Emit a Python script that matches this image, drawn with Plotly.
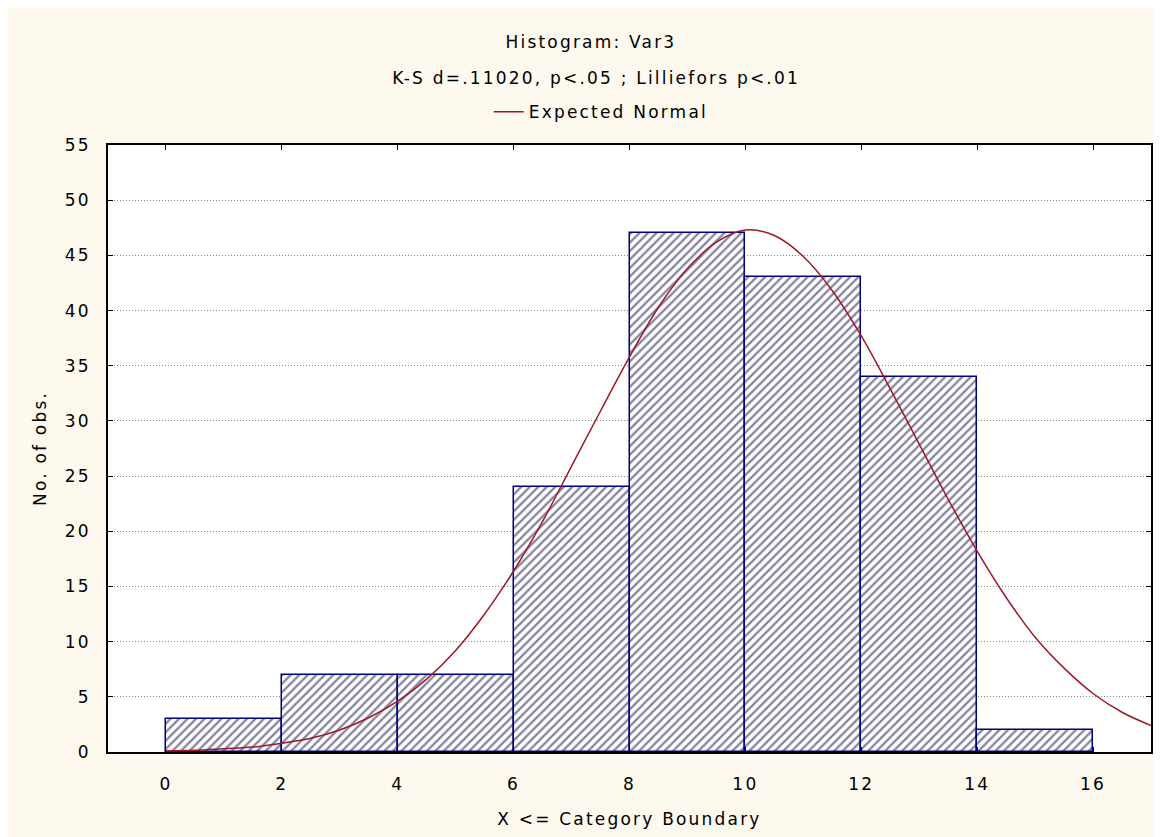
import plotly.graph_objects as go

# Histogram data (bin lower boundaries, width 2)
bin_lower = [0, 2, 4, 6, 8, 10, 12, 14]
bin_width = 2
counts = [3, 7, 7, 24, 47, 43, 34, 2]

# Expected normal curve
curve_x = [0, 0.5, 1, 1.5, 2, 2.5, 3, 3.5, 4, 4.5, 5, 5.5, 6, 6.5, 7, 7.5, 8, 8.5,
           9, 9.5, 10, 10.5, 11, 11.5, 12, 12.5, 13, 13.5, 14, 14.5, 15, 15.5,
           16, 16.5, 17]
curve_y = [0.1, 0.15, 0.3, 0.45, 0.8, 1.25, 2.0, 3.1, 4.6, 6.6, 9.2, 12.5, 16.4,
           20.9, 25.9, 30.9, 35.8, 40.3, 43.8, 46.2, 47.3, 46.8, 44.9, 41.8, 37.7,
           32.9, 27.9, 22.9, 18.2, 14.0, 10.4, 7.6, 5.3, 3.6, 2.4]

x_ticks = [0, 2, 4, 6, 8, 10, 12, 14, 16]
y_ticks = [0, 5, 10, 15, 20, 25, 30, 35, 40, 45, 50, 55]

title_text = "Histogram: Var3"
subtitle_text = "K-S d=.11020, p<.05 ; Lilliefors p<.01"
x_title = "X <= Category Boundary"
y_title = "No. of obs."

FONT = "DejaVu Sans, Verdana, sans-serif"
FS = 17
BG = "#FDF9EF"

fig = go.Figure()
fig.add_trace(go.Bar(
    x=bin_lower, y=counts, width=[bin_width] * len(counts), offset=0,
    marker=dict(color="white",
                line=dict(color="#00007A", width=1.5),
                pattern=dict(shape="/", fgcolor="#0A0A40", bgcolor="white",
                             size=6, solidity=0.38)),
    showlegend=False, hoverinfo="x+y",
))
fig.add_trace(go.Scatter(
    x=curve_x, y=curve_y, mode="lines", name="Expected Normal",
    line=dict(color="#A01828", width=1.5, shape="spline"),
))

fig.update_layout(
    width=1153, height=829,
    paper_bgcolor=BG, plot_bgcolor="white",
    margin=dict(l=100, r=8, t=137, b=85),
    font=dict(family=FONT, size=FS, color="black"),
    bargap=0,
    showlegend=True,
    legend=dict(orientation="h", x=0.365, xanchor="left", y=1.054, yanchor="middle",
                entrywidth=260, entrywidthmode="pixels",
                bgcolor="rgba(0,0,0,0)", font=dict(size=FS, family=FONT)),
    annotations=[
        dict(text=title_text, x=0.463, y=1.1697, xref="paper", yref="paper",
             showarrow=False, font=dict(size=FS, family=FONT), yanchor="middle"),
        dict(text=subtitle_text, x=0.468, y=1.110,
             xref="paper", yref="paper", showarrow=False,
             font=dict(size=FS, family=FONT), yanchor="middle"),
    ],
)
fig.update_xaxes(
    range=[-1, 17], tickvals=x_ticks, ticktext=[str(v) for v in x_ticks],
    showgrid=False, zeroline=False,
    showline=True, linecolor="black", linewidth=1.5, mirror="ticks",
    ticks="inside", ticklen=5, tickcolor="black", ticklabelstandoff=16,
    title=dict(text=x_title, standoff=20, font=dict(size=FS)),
)
fig.update_yaxes(
    range=[0, 55], tickvals=y_ticks, ticktext=[str(v) for v in y_ticks],
    showgrid=True, gridcolor="#8C8C8C", griddash="1px,2px", gridwidth=1,
    zeroline=False,
    showline=True, linecolor="black", linewidth=1.5, mirror="ticks",
    ticks="inside", ticklen=5, tickcolor="black", ticklabelstandoff=12,
    title=dict(text=y_title, standoff=18, font=dict(size=FS)),
)

post = ("var s=document.createElement('style');"
        "s.textContent='.js-plotly-plot .main-svg text{letter-spacing:2.2px}';"
        "document.head.appendChild(s);")

fig.write_html("out.html", post_script=post)
